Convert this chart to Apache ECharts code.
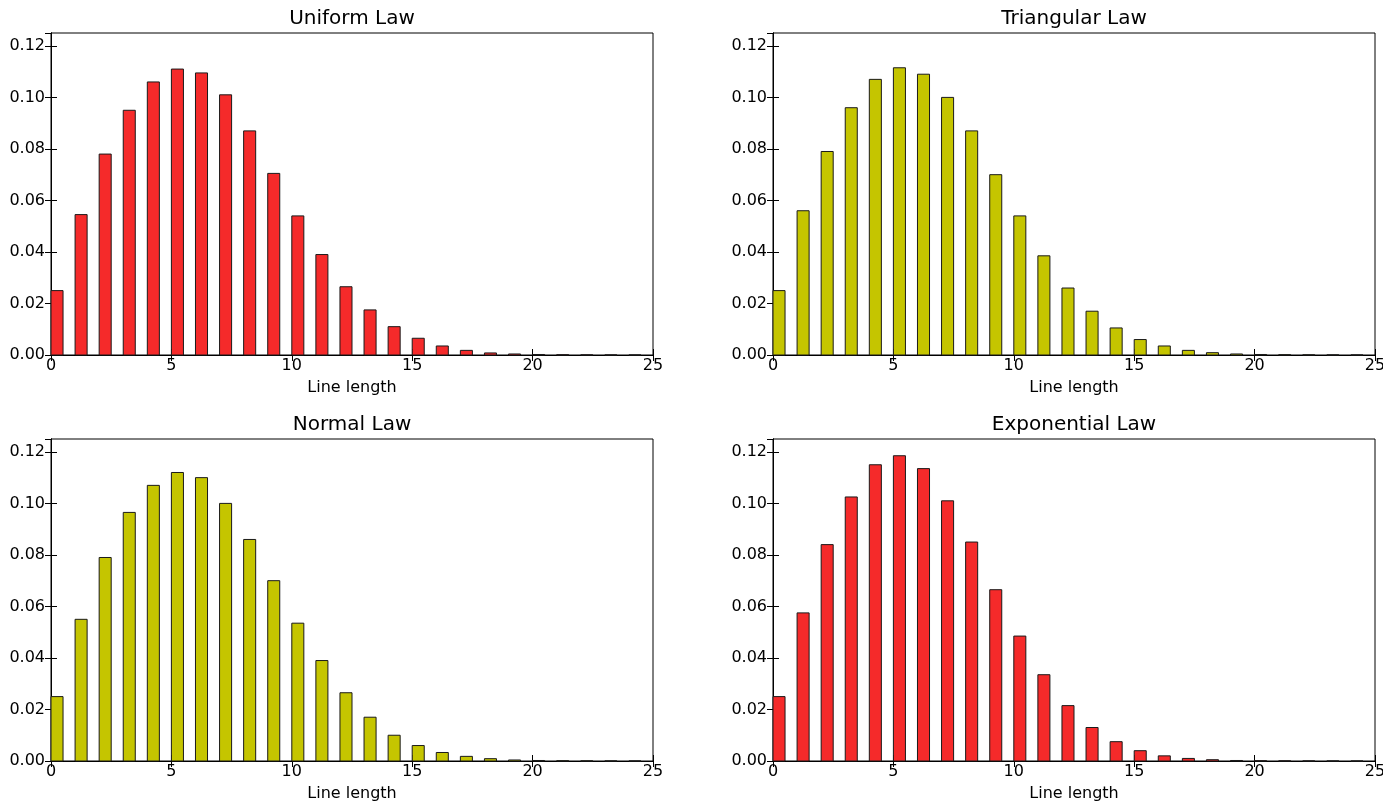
<!DOCTYPE html>
<html>
<head>
<meta charset="utf-8">
<script src="https://cdn.jsdelivr.net/npm/echarts@6/dist/echarts.min.js"></script>
<style>
html, body { margin: 0; padding: 0; background: #fff; overflow: hidden; }
#chart { width: 1383px; height: 809px; }
</style>
</head>
<body>
<div id="chart"></div>
<script>
var lengths = [0, 1, 2, 3, 4, 5, 6, 7, 8, 9, 10, 11, 12, 13, 14, 15, 16, 17, 18, 19, 20, 21, 22, 23, 24];

var uniformLaw = [0.025, 0.0545, 0.078, 0.095, 0.106, 0.111, 0.1095, 0.101, 0.087, 0.0705, 0.054, 0.039, 0.0265,
    0.0175, 0.011, 0.0065, 0.0035, 0.0018, 0.0008, 0.0004, 0.0002, 0.0001, 0.00005, 0.00002, 0.00001];
var triangularLaw = [0.025, 0.056, 0.079, 0.096, 0.107, 0.1115, 0.109, 0.100, 0.087, 0.070, 0.054, 0.0385, 0.026,
    0.017, 0.0105, 0.006, 0.0035, 0.0018, 0.0009, 0.0004, 0.0002, 0.0001, 0.00005, 0.00002, 0.00001];
var normalLaw = [0.025, 0.055, 0.079, 0.0965, 0.107, 0.112, 0.110, 0.100, 0.086, 0.070, 0.0535, 0.039, 0.0265,
    0.017, 0.010, 0.006, 0.0033, 0.0018, 0.0009, 0.0004, 0.0002, 0.0001, 0.00005, 0.00002, 0.00001];
var exponentialLaw = [0.025, 0.0575, 0.084, 0.1025, 0.115, 0.1185, 0.1135, 0.101, 0.085, 0.0665, 0.0485, 0.0335, 0.0215,
    0.013, 0.0075, 0.004, 0.002, 0.001, 0.0005, 0.0002, 0.0001, 0.00005, 0.00002, 0.00001, 0.0];

var xTicks = [0, 5, 10, 15, 20, 25];
var yTicks = [0.00, 0.02, 0.04, 0.06, 0.08, 0.10, 0.12];

var panels = [
    { title: 'Uniform Law', data: uniformLaw, color: '#f52a2a', left: 51, top: 33 },
    { title: 'Triangular Law', data: triangularLaw, color: '#c5c500', left: 773, top: 33 },
    { title: 'Normal Law', data: normalLaw, color: '#c5c500', left: 51, top: 439 },
    { title: 'Exponential Law', data: exponentialLaw, color: '#f52a2a', left: 773, top: 439 }
];

var font = 'DejaVu Sans';
var barWidth = 0.5;
var plotW = 602, plotH = 322;

var chart = echarts.init(document.getElementById('chart'), null, { renderer: 'canvas' });

var option = {
    animation: false,
    backgroundColor: '#fff',
    graphic: [],
    grid: [],
    xAxis: [],
    yAxis: [],
    series: []
};

var tickStyle = { show: true, inside: true, length: 6, lineStyle: { color: '#000', width: 1 } };

panels.forEach(function (p, i) {
    // subplot title
    option.graphic.push({
        type: 'text',
        x: p.left + plotW / 2,
        y: p.top - 14,
        style: {
            text: p.title, fill: '#000', font: '20px "' + font + '"',
            textAlign: 'center', textVerticalAlign: 'middle'
        }
    });
    option.grid.push({
        left: p.left, top: p.top, width: plotW, height: plotH,
        outerBoundsMode: 'none',
        show: true, borderColor: '#000', borderWidth: 1
    });

    // bottom and top x axes
    option.xAxis.push({
        type: 'value', gridIndex: i, position: 'bottom', min: xTicks[0], max: xTicks[xTicks.length - 1], interval: 5,
        name: 'Line length', nameLocation: 'middle', nameGap: 25,
        nameTextStyle: { fontFamily: font, fontSize: 16, color: '#000' },
        axisLine: { show: true, lineStyle: { color: '#000', width: 1 } },
        axisTick: tickStyle,
        axisLabel: { fontFamily: font, fontSize: 16, color: '#000', margin: 3 },
        splitLine: { show: false }
    });
    option.xAxis.push({
        type: 'value', gridIndex: i, position: 'top', min: 0, max: 25, interval: 5,
        axisLine: { show: true, lineStyle: { color: '#000', width: 1 } },
        axisTick: tickStyle, axisLabel: { show: false }, splitLine: { show: false }
    });

    // left and right y axes
    option.yAxis.push({
        type: 'value', gridIndex: i, position: 'left', min: yTicks[0], max: 0.125, interval: 0.02,
        axisLine: { show: true, lineStyle: { color: '#000', width: 1 } },
        axisTick: tickStyle,
        axisLabel: {
            fontFamily: font, fontSize: 16, color: '#000', margin: 6, showMaxLabel: false,
            formatter: function (v) { return v.toFixed(2); }
        },
        splitLine: { show: false }
    });
    option.yAxis.push({
        type: 'value', gridIndex: i, position: 'right', min: 0, max: 0.125, interval: 0.02,
        axisLine: { show: true, lineStyle: { color: '#000', width: 1 } },
        axisTick: tickStyle, axisLabel: { show: false }, splitLine: { show: false }
    });

    option.series.push({
        type: 'custom',
        name: p.title,
        xAxisIndex: i * 2,
        yAxisIndex: i * 2,
        data: lengths.map(function (x, k) { return [x, p.data[k]]; }),
        renderItem: function (params, api) {
            var x = api.value(0);
            var y = api.value(1);
            var topLeft = api.coord([x, y]);
            var bottomRight = api.coord([x + barWidth, 0]);
            return {
                type: 'rect',
                shape: {
                    x: topLeft[0],
                    y: topLeft[1],
                    width: bottomRight[0] - topLeft[0],
                    height: bottomRight[1] - topLeft[1]
                },
                style: { fill: p.color, stroke: '#1a1a1a', lineWidth: 1 }
            };
        }
    });
});

chart.setOption(option);
</script>
</body>
</html>
